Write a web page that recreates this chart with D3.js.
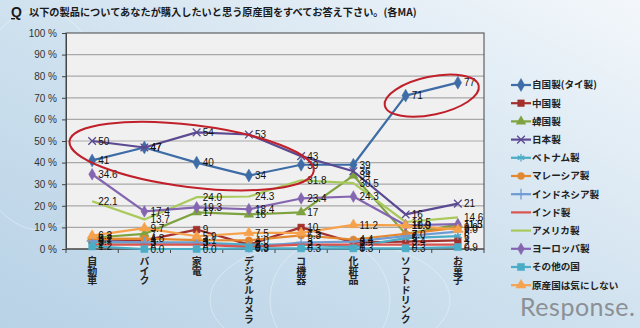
<!DOCTYPE html>
<html>
<head>
<meta charset="utf-8">
<script src="https://cdn.jsdelivr.net/npm/d3@7"></script>
<style>
  html, body { margin: 0; padding: 0; }
  body { width: 640px; height: 328px; overflow: hidden; }
  svg { display: block; font-family: "Noto Sans CJK JP", "Open Sans", sans-serif; }
</style>
</head>
<body>
<svg id="chart" width="640" height="328"></svg>
<script>
// Categories (products) along the x axis
const categories = ["自動車", "バイク", "家電", "デジタルカメラ", "コ機器", "化粧品", "ソフトドリンク", "お菓子"];

// Percent of respondents choosing each origin, per product
const thai      = [41, 47, 40, 34, 39, 39, 71, 77];
const china     = [4, 4, 9, 2, 10, 3, 3.4, 4.0];
const korea     = [5.2, 7, 17, 16, 17, 34, 7, 11.3];
const japan     = [50, 47, 54, 53, 43, 36, 16, 21];
const vietnam   = [3, 3, 3, 2, 2, 1, 5, 6];
const malaysia  = [4.7, 4.8, 4.1, 4, 6.3, 4.4, 7, 9.9];
const indonesia = [3.7, 3, 3, 0.9, 3, 3.4, 6, 8];
const india     = [2, 2, 2, 1, 2, 2, 2, 2.0];
const america   = [22.1, 13.7, 24.0, 24.3, 31.8, 30.5, 12.5, 14.6];
const europe    = [34.6, 17.4, 19.3, 18.4, 23.4, 24.3, 11, 11.5];
const other     = [1.2, 0.0, 0.0, 0.3, 0.3, 0.3, 0.3, 0.9];
const noCare    = [6.2, 9.7, 5.9, 7.5, 7.5, 11.2, 10.9, 9.0];

// Series names in legend order
const seriesNames = ["自国製(タイ製)", "中国製", "韓国製", "日本製", "ベトナム製", "マレーシア製",
                     "インドネシア製", "インド製", "アメリカ製", "ヨーロッパ製", "その他の国", "原産国は気にしない"];
const seriesValues = [thai, china, korea, japan, vietnam, malaysia, indonesia, india, america, europe, other, noCare];
// Series whose labels are shown with one decimal place
const oneDecimal = [false, false, false, false, false, true, false, false, true, true, true, true];

// Y axis ticks
const yTicks = [0, 10, 20, 30, 40, 50, 60, 70, 80, 90, 100];

const titleText = "以下の製品についてあなたが購入したいと思う原産国をすべてお答え下さい。(各MA)";

// ---- styling ----
const colors = ["#3d6ca6", "#a2302c", "#7ea23f", "#5b4a92", "#4bacc6", "#e4882f",
                "#6f9bd3", "#d9534f", "#a9c95c", "#8466b0", "#4bacc6", "#f6a24c"];
const sym = {
  diamond: d3.symbolDiamond,
  square: d3.symbolSquare,
  triangle: d3.symbolTriangle,
  times: d3.symbolTimes || d3.symbolX || d3.symbolCross,
  asterisk: d3.symbolAsterisk || d3.symbolStar,
  circle: d3.symbolCircle,
  plus: d3.symbolPlus || d3.symbolCross
};
const markers = [
  {t: "diamond", s: 48, fill: true}, {t: "square", s: 44, fill: true}, {t: "triangle", s: 40, fill: true},
  {t: "times", s: 40, fill: false}, {t: "asterisk", s: 40, fill: false}, {t: "circle", s: 40, fill: true},
  {t: "plus", s: 40, fill: false}, null, null,
  {t: "diamond", s: 40, fill: true}, {t: "square", s: 50, fill: true}, {t: "triangle", s: 44, fill: true}
];

const svg = d3.select("#chart");
const defs = svg.append("defs");

// page background
const bg = defs.append("linearGradient").attr("id", "bg")
  .attr("x1", "0").attr("y1", "1").attr("x2", "1").attr("y2", "0");
bg.append("stop").attr("offset", "0").attr("stop-color", "#b8d2e6");
bg.append("stop").attr("offset", "0.45").attr("stop-color", "#cde0ee");
bg.append("stop").attr("offset", "1").attr("stop-color", "#f3f7fb");
svg.append("rect").attr("width", 640).attr("height", 328).attr("fill", "url(#bg)");

// faint decorative arcs in the background
const deco = svg.append("g").attr("fill", "none").attr("stroke", "#ffffff").attr("stroke-opacity", 0.35);
deco.append("ellipse").attr("cx", 330).attr("cy", 300).attr("rx", 120).attr("ry", 60);
deco.append("ellipse").attr("cx", 330).attr("cy", 300).attr("rx", 60).attr("ry", 60);
deco.append("ellipse").attr("cx", 40).attr("cy", 120).attr("rx", 70).attr("ry", 110);

// title
svg.append("text").attr("x", 11).attr("y", 17)
  .attr("font-size", 14).attr("font-weight", "bold").attr("fill", "#1a1a1a")
  .attr("font-family", "Liberation Sans, Arial, sans-serif")
  .attr("text-decoration", "underline").text("Q");
svg.append("text").attr("x", 29).attr("y", 16)
  .attr("font-size", 10.2).attr("font-weight", "bold").attr("fill", "#1a1a1a")
  .text(titleText);

// ---- scales ----
const plot = {left: 66, right: 484, top: 33, bottom: 249};
const x = d3.scaleBand().domain(categories).range([plot.left, plot.right]);
const y = d3.scaleLinear().domain([0, 100]).range([plot.bottom, plot.top]);
const cx = c => x(c) + x.bandwidth() / 2;

// plot area
svg.append("rect").attr("x", plot.left).attr("y", plot.top)
  .attr("width", plot.right - plot.left).attr("height", plot.bottom - plot.top)
  .attr("fill", "#f0f0f0");

// gridlines
svg.append("g").selectAll("line").data(yTicks.filter(t => t > 0 && t < 100)).join("line")
  .attr("x1", plot.left).attr("x2", plot.right)
  .attr("y1", d => y(d)).attr("y2", d => y(d))
  .attr("stroke", "#a9a9a9").attr("stroke-width", 1.2);

svg.append("rect").attr("x", plot.left).attr("y", plot.top)
  .attr("width", plot.right - plot.left).attr("height", plot.bottom - plot.top)
  .attr("fill", "none").attr("stroke", "#444").attr("stroke-width", 1);

// y axis
const yAxis = svg.append("g").attr("transform", `translate(${plot.left},0)`)
  .call(d3.axisLeft(y).tickValues(yTicks).tickSize(4).tickFormat(d => d + " %"));
yAxis.select(".domain").attr("stroke", "#444");
yAxis.selectAll(".tick line").attr("stroke", "#444");
yAxis.selectAll("text").attr("font-size", 10).attr("fill", "#333")
  .attr("font-family", "Liberation Sans, Arial, sans-serif").attr("dx", "-2");

// x axis with ticks between categories
const xAxisG = svg.append("g").attr("transform", `translate(0,${plot.bottom})`);
xAxisG.append("line").attr("x1", plot.left).attr("x2", plot.right)
  .attr("stroke", "#444");
xAxisG.selectAll("line.tk").data(d3.range(categories.length + 1)).join("line").attr("class", "tk")
  .attr("x1", i => plot.left + i * x.step()).attr("x2", i => plot.left + i * x.step())
  .attr("y1", 0).attr("y2", 4).attr("stroke", "#444");
xAxisG.selectAll("text").data(categories).join("text")
  .attr("x", d => cx(d)).attr("y", 7)
  .style("writing-mode", "vertical-rl").style("text-orientation", "upright")
  .attr("font-size", 10).attr("font-weight", "bold").attr("fill", "#222")
  .attr("letter-spacing", "-0.3")
  .text(d => d);

// ---- series ----
const line = d3.line().x((d, i) => cx(categories[i])).y(d => y(d));
const seriesG = svg.append("g");
seriesValues.forEach((vals, si) => {
  const g = seriesG.append("g");
  g.append("path").datum(vals).attr("d", line)
    .attr("fill", "none").attr("stroke", colors[si]).attr("stroke-width", 2.2)
    .attr("stroke-linejoin", "round");
  const m = markers[si];
  if (m) {
    g.selectAll("path.mk").data(vals).join("path").attr("class", "mk")
      .attr("transform", (d, i) => `translate(${cx(categories[i])},${y(d)})`)
      .attr("d", d3.symbol().type(sym[m.t]).size(m.s))
      .attr("fill", m.fill ? colors[si] : "none")
      .attr("stroke", colors[si]).attr("stroke-width", m.fill ? 0.5 : 1.3);
  }
});

// data labels, drawn after the lines so they sit on top
const labelG = svg.append("g").attr("font-size", 10).attr("fill", "#111")
  .attr("font-family", "Liberation Sans, Arial, sans-serif");
seriesValues.forEach((vals, si) => {
  labelG.selectAll(null).data(vals).join("text")
    .attr("x", (d, i) => cx(categories[i]) + 6)
    .attr("y", d => y(d)).attr("dy", "0.38em")
    .text(d => oneDecimal[si] ? d.toFixed(1) : String(d));
});

// highlight ellipses
const hl = svg.append("g").attr("fill", "none").attr("stroke", "#c0202a").attr("stroke-width", 2);
hl.append("ellipse").attr("cx", 0).attr("cy", 0).attr("rx", 123).attr("ry", 31)
  .attr("transform", `translate(${(cx(categories[0]) + cx(categories[4])) / 2 - 5},${y(43)}) rotate(7)`);
hl.append("ellipse").attr("cx", 0).attr("cy", 0).attr("rx", 48).attr("ry", 19)
  .attr("transform", `translate(${(cx(categories[6]) + cx(categories[7])) / 2},${y(71)}) rotate(-12)`);

// legend
const legend = svg.append("g").attr("transform", "translate(511,85)");
seriesNames.forEach((name, si) => {
  const g = legend.append("g").attr("transform", `translate(0,${si * 18.2})`);
  g.append("line").attr("x1", 0).attr("x2", 20).attr("stroke", colors[si]).attr("stroke-width", 2.2);
  const m = markers[si];
  if (m) {
    g.append("path").attr("transform", "translate(10,0)")
      .attr("d", d3.symbol().type(sym[m.t]).size(m.s))
      .attr("fill", m.fill ? colors[si] : "none")
      .attr("stroke", colors[si]).attr("stroke-width", m.fill ? 0.5 : 1.3);
  }
  g.append("text").attr("x", 21).attr("y", 0).attr("dy", "0.36em")
    .attr("font-size", 9.6).attr("font-weight", "bold").attr("fill", "#222").text(name);
});

// site logo
svg.append("text").attr("x", 520).attr("y", 316)
  .attr("font-family", "Lato, Open Sans, sans-serif").attr("font-size", 25)
  .attr("fill", "#8c8f94").attr("letter-spacing", "0.5").text("Response.");
</script>
</body>
</html>
